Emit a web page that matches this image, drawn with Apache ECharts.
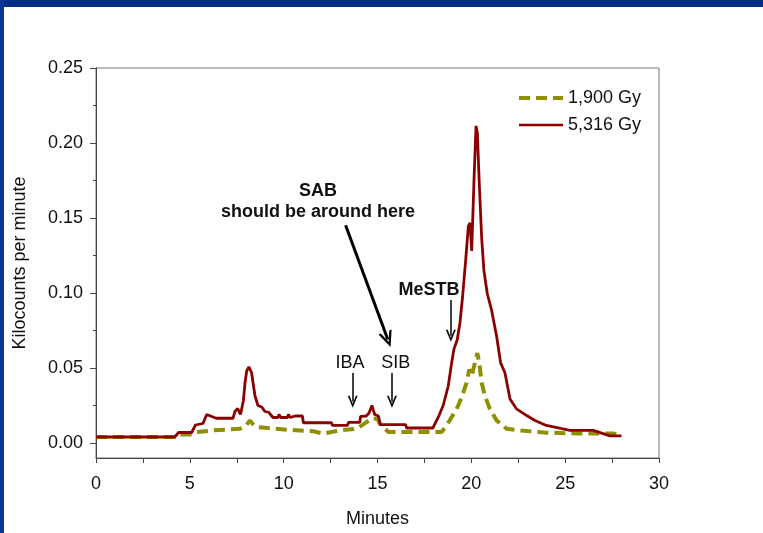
<!DOCTYPE html>
<html>
<head>
    <meta charset="utf-8">
    <script src="https://cdn.jsdelivr.net/npm/echarts@6/dist/echarts.min.js"></script>
    <style>html,body{margin:0;padding:0;background:#fff;}</style>
</head>
<body>
    <div id="main" style="width:763px;height:533px;"></div>
	<script type="text/javascript">
	// 5,316 Gy trace
	var timeHigh = [0, 4.2, 4.4, 5.1, 5.3, 5.7, 5.9, 6.1, 6.4, 7.3, 7.4, 7.55, 7.7, 7.85, 7.94, 8.03, 8.15, 8.29, 8.47, 8.63,
		8.83, 9.0, 9.2, 9.43, 9.7, 9.75, 9.85, 10.2, 10.25, 10.35, 10.6, 11.0, 11.05, 12.55, 12.6, 13.4, 13.45, 14.05, 14.1, 14.4,
		14.55, 14.7, 14.85, 15.05, 15.15, 16.5, 16.55, 17.95, 18.24, 18.5, 18.77, 18.95, 19.07, 19.25, 19.39, 19.53, 19.71, 19.84, 19.93, 20.02,
		20.14, 20.25, 20.32, 20.42, 20.55, 20.67, 20.85, 21.08, 21.35, 21.56, 21.79, 22.06, 22.41, 22.95, 23.39, 24.0, 25.25, 26.5, 27.38, 28.0];
	var countsHigh = [0.004, 0.004, 0.007, 0.007, 0.012, 0.013, 0.019, 0.018, 0.0165, 0.0165, 0.021, 0.023, 0.019, 0.028, 0.040, 0.048, 0.0508, 0.0468, 0.0315, 0.025,
		0.024, 0.021, 0.0205, 0.017, 0.017, 0.019, 0.017, 0.017, 0.019, 0.017, 0.018, 0.018, 0.0135, 0.0135, 0.0117, 0.0117, 0.0137, 0.0137, 0.0178, 0.018,
		0.020, 0.025, 0.019, 0.018, 0.0122, 0.0122, 0.010, 0.010, 0.0172, 0.025, 0.038, 0.0534, 0.0624, 0.069, 0.0797, 0.097, 0.1236, 0.1445, 0.1467, 0.128,
		0.1743, 0.2114, 0.207, 0.174, 0.1368, 0.115, 0.0995, 0.0885, 0.071, 0.0534, 0.0468, 0.0293, 0.0227, 0.0183, 0.015, 0.0117, 0.0084, 0.0084, 0.0047, 0.0047];

	// 1,900 Gy trace
	var timeLow = [0, 4.2, 4.47, 5.0, 5.36, 6.25, 7.67, 8.03, 8.2, 8.4, 8.56, 10.16, 11.58, 12.11, 12.6, 13.0, 13.89, 14.42, 14.69, 15.0,
		15.13, 15.58, 18.42, 18.68, 18.95, 19.22, 19.48, 19.75, 19.89, 20.02, 20.19, 20.32, 20.42, 20.55, 20.72, 20.99, 21.35, 21.88, 22.59, 24.0,
		25.78, 27.56, 28.0];
	var countsLow = [0.004, 0.004, 0.0056, 0.0056, 0.0073, 0.0084, 0.0095, 0.0122, 0.015, 0.012, 0.0106, 0.0089, 0.0078, 0.0063, 0.0075, 0.0084, 0.0095, 0.0139, 0.0165, 0.016,
		0.0128, 0.0073, 0.0073, 0.0117, 0.0172, 0.0227, 0.0303, 0.0402, 0.049, 0.0446, 0.0534, 0.060, 0.0534, 0.0402, 0.0315, 0.0227, 0.015, 0.0095, 0.0084, 0.0069,
		0.0063, 0.0063, 0.0051];

	var seriesNames = ['1,900 Gy', '5,316 Gy'];
	var yTicks = [0, 0.05, 0.10, 0.15, 0.20, 0.25];
	var yMinorTicks = [0.025, 0.075, 0.125, 0.175, 0.225];

	// annotations: [text, x, y]
	var notes = [
		['{b|SAB}\n{b|should be around here}', 11.83, 0.1611],
		['IBA', 13.53, 0.0532],
		['SIB', 15.97, 0.0532],
		['{b|MeSTB}', 17.74, 0.1021]
	];
	// arrows: [x1, y1, x2, y2]
	var arrows = [
		[13.30, 0.1451, 15.55, 0.0690],
		[13.68, 0.0466, 13.68, 0.0275],
		[15.77, 0.0466, 15.77, 0.0275],
		[18.91, 0.0953, 18.91, 0.0715]
	];

	function zip(a, b) {
		return a.map(function (v, i) { return [v, b[i]]; });
	}

	var FONT = 'Liberation Sans, Arial, sans-serif';
	var FS = 18;
	var chevron = 'path://M5,0 L10,10 L8.2,10 L5,3.4 L1.8,10 L0,10 Z';

	myChart = echarts.init(document.getElementById('main'));
	myChart.setOption(option = {
		animation: false,
		textStyle: { fontFamily: FONT },
		graphic: [
			{ type: 'rect', left: 0, top: 0, shape: { width: 763, height: 7 }, style: { fill: '#002D84' }, silent: true },
			{ type: 'rect', left: 0, top: 0, shape: { width: 4, height: 533 }, style: { fill: '#0A3592' }, silent: true }
		],
		grid: {
			left: 96, right: 104, top: 68, bottom: 70,
			show: true, borderColor: '#777', borderWidth: 1
		},
		legend: {
			orient: 'vertical',
			left: 512, top: 84,
			itemWidth: 44, itemHeight: 14, itemGap: 9,
			itemStyle: { opacity: 0 },
			textStyle: { fontSize: FS, color: '#111', fontFamily: FONT, padding: [0, 0, 0, 0] },
			data: [
				{ name: seriesNames[0], lineStyle: { width: 4, type: [11, 6] } },
				{ name: seriesNames[1], lineStyle: { width: 2.5 } }
			]
		},
		xAxis: {
			type: 'value',
			min: 0, max: 30, interval: 5,
			name: 'Minutes', nameLocation: 'middle', nameGap: 52,
			nameTextStyle: { fontSize: FS, color: '#111' },
			axisLine: { onZero: false, lineStyle: { color: '#444', width: 1 } },
			axisTick: { length: 5, lineStyle: { color: '#444' } },
			minorTick: { show: true, splitNumber: 2, length: 5, lineStyle: { color: '#444' } },
			axisLabel: { fontSize: FS, color: '#111', margin: 17 },
			splitLine: { show: false }
		},
		yAxis: [{
			type: 'value',
			min: -0.01, max: 0.25,
			name: 'Kilocounts per minute', nameLocation: 'middle', nameGap: 67,
			nameTextStyle: { fontSize: FS, color: '#111' },
			axisLine: { show: true, onZero: false, lineStyle: { color: '#444', width: 1 } },
			axisTick: { show: true, length: 6, customValues: yTicks, lineStyle: { color: '#444' } },
			axisLabel: {
				fontSize: FS, color: '#111', margin: 13, customValues: yTicks,
				formatter: function (v) { return v.toFixed(2); }
			},
			splitLine: { show: false }
		}, {
			type: 'value',
			position: 'left',
			min: -0.01, max: 0.25,
			axisLine: { show: false, onZero: false },
			axisTick: { show: true, length: 3, customValues: yMinorTicks, lineStyle: { color: '#444' } },
			axisLabel: { show: false, customValues: yMinorTicks },
			splitLine: { show: false }
		}],
		series: [
			{
				name: seriesNames[0],
				type: 'line',
				symbol: 'none',
				z: 3,
				data: zip(timeLow, countsLow),
				lineStyle: { color: '#8F8F00', width: 4, type: [11, 6] },
				itemStyle: { color: '#8F8F00' }
			},
			{
				name: seriesNames[1],
				type: 'line',
				symbol: 'none',
				z: 4,
				data: zip(timeHigh, countsHigh),
				lineStyle: { color: '#8B0000', width: 2.8 },
				itemStyle: { color: '#8B0000' },
				markPoint: {
					silent: true,
					symbol: 'circle',
					symbolSize: 1,
					itemStyle: { color: 'rgba(0,0,0,0)' },
					label: {
						show: true, position: 'inside', color: '#111', fontSize: FS, fontFamily: FONT, lineHeight: 21,
						formatter: function (p) { return p.name; },
						rich: { b: { fontWeight: 'bold', fontSize: FS, color: '#111', fontFamily: FONT, lineHeight: 21 } }
					},
					data: notes.map(function (n) { return { name: n[0], coord: [n[1], n[2]] }; })
				},
				markLine: {
					silent: true,
					animation: false,
					symbol: ['none', chevron],
					symbolSize: [10, 12],
					label: { show: false },
					lineStyle: { color: '#000', width: 1.5, type: 'solid' },
					data: arrows.map(function (a, i) {
						var item = [{ coord: [a[0], a[1]] }, { coord: [a[2], a[3]] }];
						if (i === 0) {
							item[0].lineStyle = { width: 3 };
							item[0].symbolSize = [14, 16];
							item[1].symbolSize = [14, 16];
						}
						return item;
					})
				}
			}
		]
	});
	</script>
</body>
</html>
